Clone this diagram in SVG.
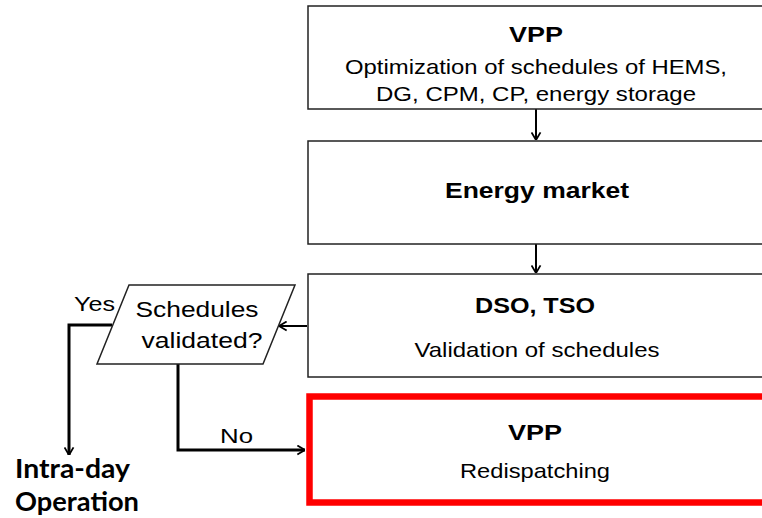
<svg xmlns="http://www.w3.org/2000/svg" width="762" height="518" viewBox="0 0 762 518">
<style>
.box{fill:#fff;stroke:#222;stroke-width:1.5}
.red{fill:#fff;stroke:#ff0000;stroke-width:6.5}
.t{font-family:"Liberation Sans",Arial,sans-serif;fill:#000;text-anchor:middle}
.b{font-weight:bold;font-size:22px}
.r{font-size:21px}
.p{font-size:22px}
.lbl{font-family:"Liberation Sans",Arial,sans-serif;font-size:21px;fill:#000}
.big{font-family:Lato,"Open Sans","Liberation Sans",sans-serif;font-weight:bold;font-size:27px;fill:#000}
.c1{fill:none;stroke:#000;stroke-width:2}
.c2{fill:none;stroke:#000;stroke-width:3}
</style>
<defs>
<marker id="ah" viewBox="0 0 10 12" refX="9.5" refY="6" markerWidth="9" markerHeight="11" markerUnits="userSpaceOnUse" orient="auto">
<path d="M1,1 L9.5,6 L1,11" fill="none" stroke="#000" stroke-width="2"/>
</marker>
</defs>
<g id="connectors">
<line class="c1" x1="536" y1="109" x2="536" y2="140" marker-end="url(#ah)"/>
<line class="c1" x1="536" y1="244" x2="536" y2="273" marker-end="url(#ah)"/>
<line class="c1" x1="307" y1="326" x2="279" y2="326" marker-end="url(#ah)"/>
<polyline class="c2" points="112,325 69,325 69,455" marker-end="url(#ah)"/>
<polyline class="c2" points="178,364 178,450 305,450" marker-end="url(#ah)"/>
<text class="lbl" x="74" y="311" textLength="41" lengthAdjust="spacingAndGlyphs">Yes</text>
<text class="lbl" x="220" y="443" textLength="33" lengthAdjust="spacingAndGlyphs">No</text>
</g>
<g id="vpp-optimization">
<rect class="box" x="308" y="6" width="470" height="103"/>
<text class="t b" x="536" y="42" textLength="54" lengthAdjust="spacingAndGlyphs">VPP</text>
<text class="t r" x="536" y="74" textLength="382" lengthAdjust="spacingAndGlyphs">Optimization of schedules of HEMS,</text>
<text class="t r" x="536" y="101" textLength="320" lengthAdjust="spacingAndGlyphs">DG, CPM, CP, energy storage</text>
</g>
<g id="energy-market">
<rect class="box" x="308" y="141" width="470" height="103"/>
<text class="t b" x="537" y="198" textLength="184" lengthAdjust="spacingAndGlyphs">Energy market</text>
</g>
<g id="dso-tso">
<rect class="box" x="308" y="274" width="470" height="103"/>
<text class="t b" x="535" y="313" textLength="120" lengthAdjust="spacingAndGlyphs">DSO, TSO</text>
<text class="t r" x="537" y="357" textLength="245" lengthAdjust="spacingAndGlyphs">Validation of schedules</text>
</g>
<g id="decision">
<polygon class="box" points="129,285 295,285 263,364 97,364"/>
<text class="t p" x="197" y="317" textLength="123" lengthAdjust="spacingAndGlyphs">Schedules</text>
<text class="t p" x="202" y="348" textLength="121" lengthAdjust="spacingAndGlyphs">validated?</text>
</g>
<g id="vpp-redispatching">
<rect class="red" x="309.5" y="396.5" width="470" height="106"/>
<text class="t b" x="535" y="440" textLength="54" lengthAdjust="spacingAndGlyphs">VPP</text>
<text class="t r" x="535" y="478" textLength="150" lengthAdjust="spacingAndGlyphs">Redispatching</text>
</g>
<g id="intra-day">
<text class="big" x="15" y="478" textLength="115" lengthAdjust="spacingAndGlyphs">Intra-day</text>
<text class="big" x="15" y="511" textLength="124" lengthAdjust="spacingAndGlyphs">Operation</text>
</g>
</svg>
